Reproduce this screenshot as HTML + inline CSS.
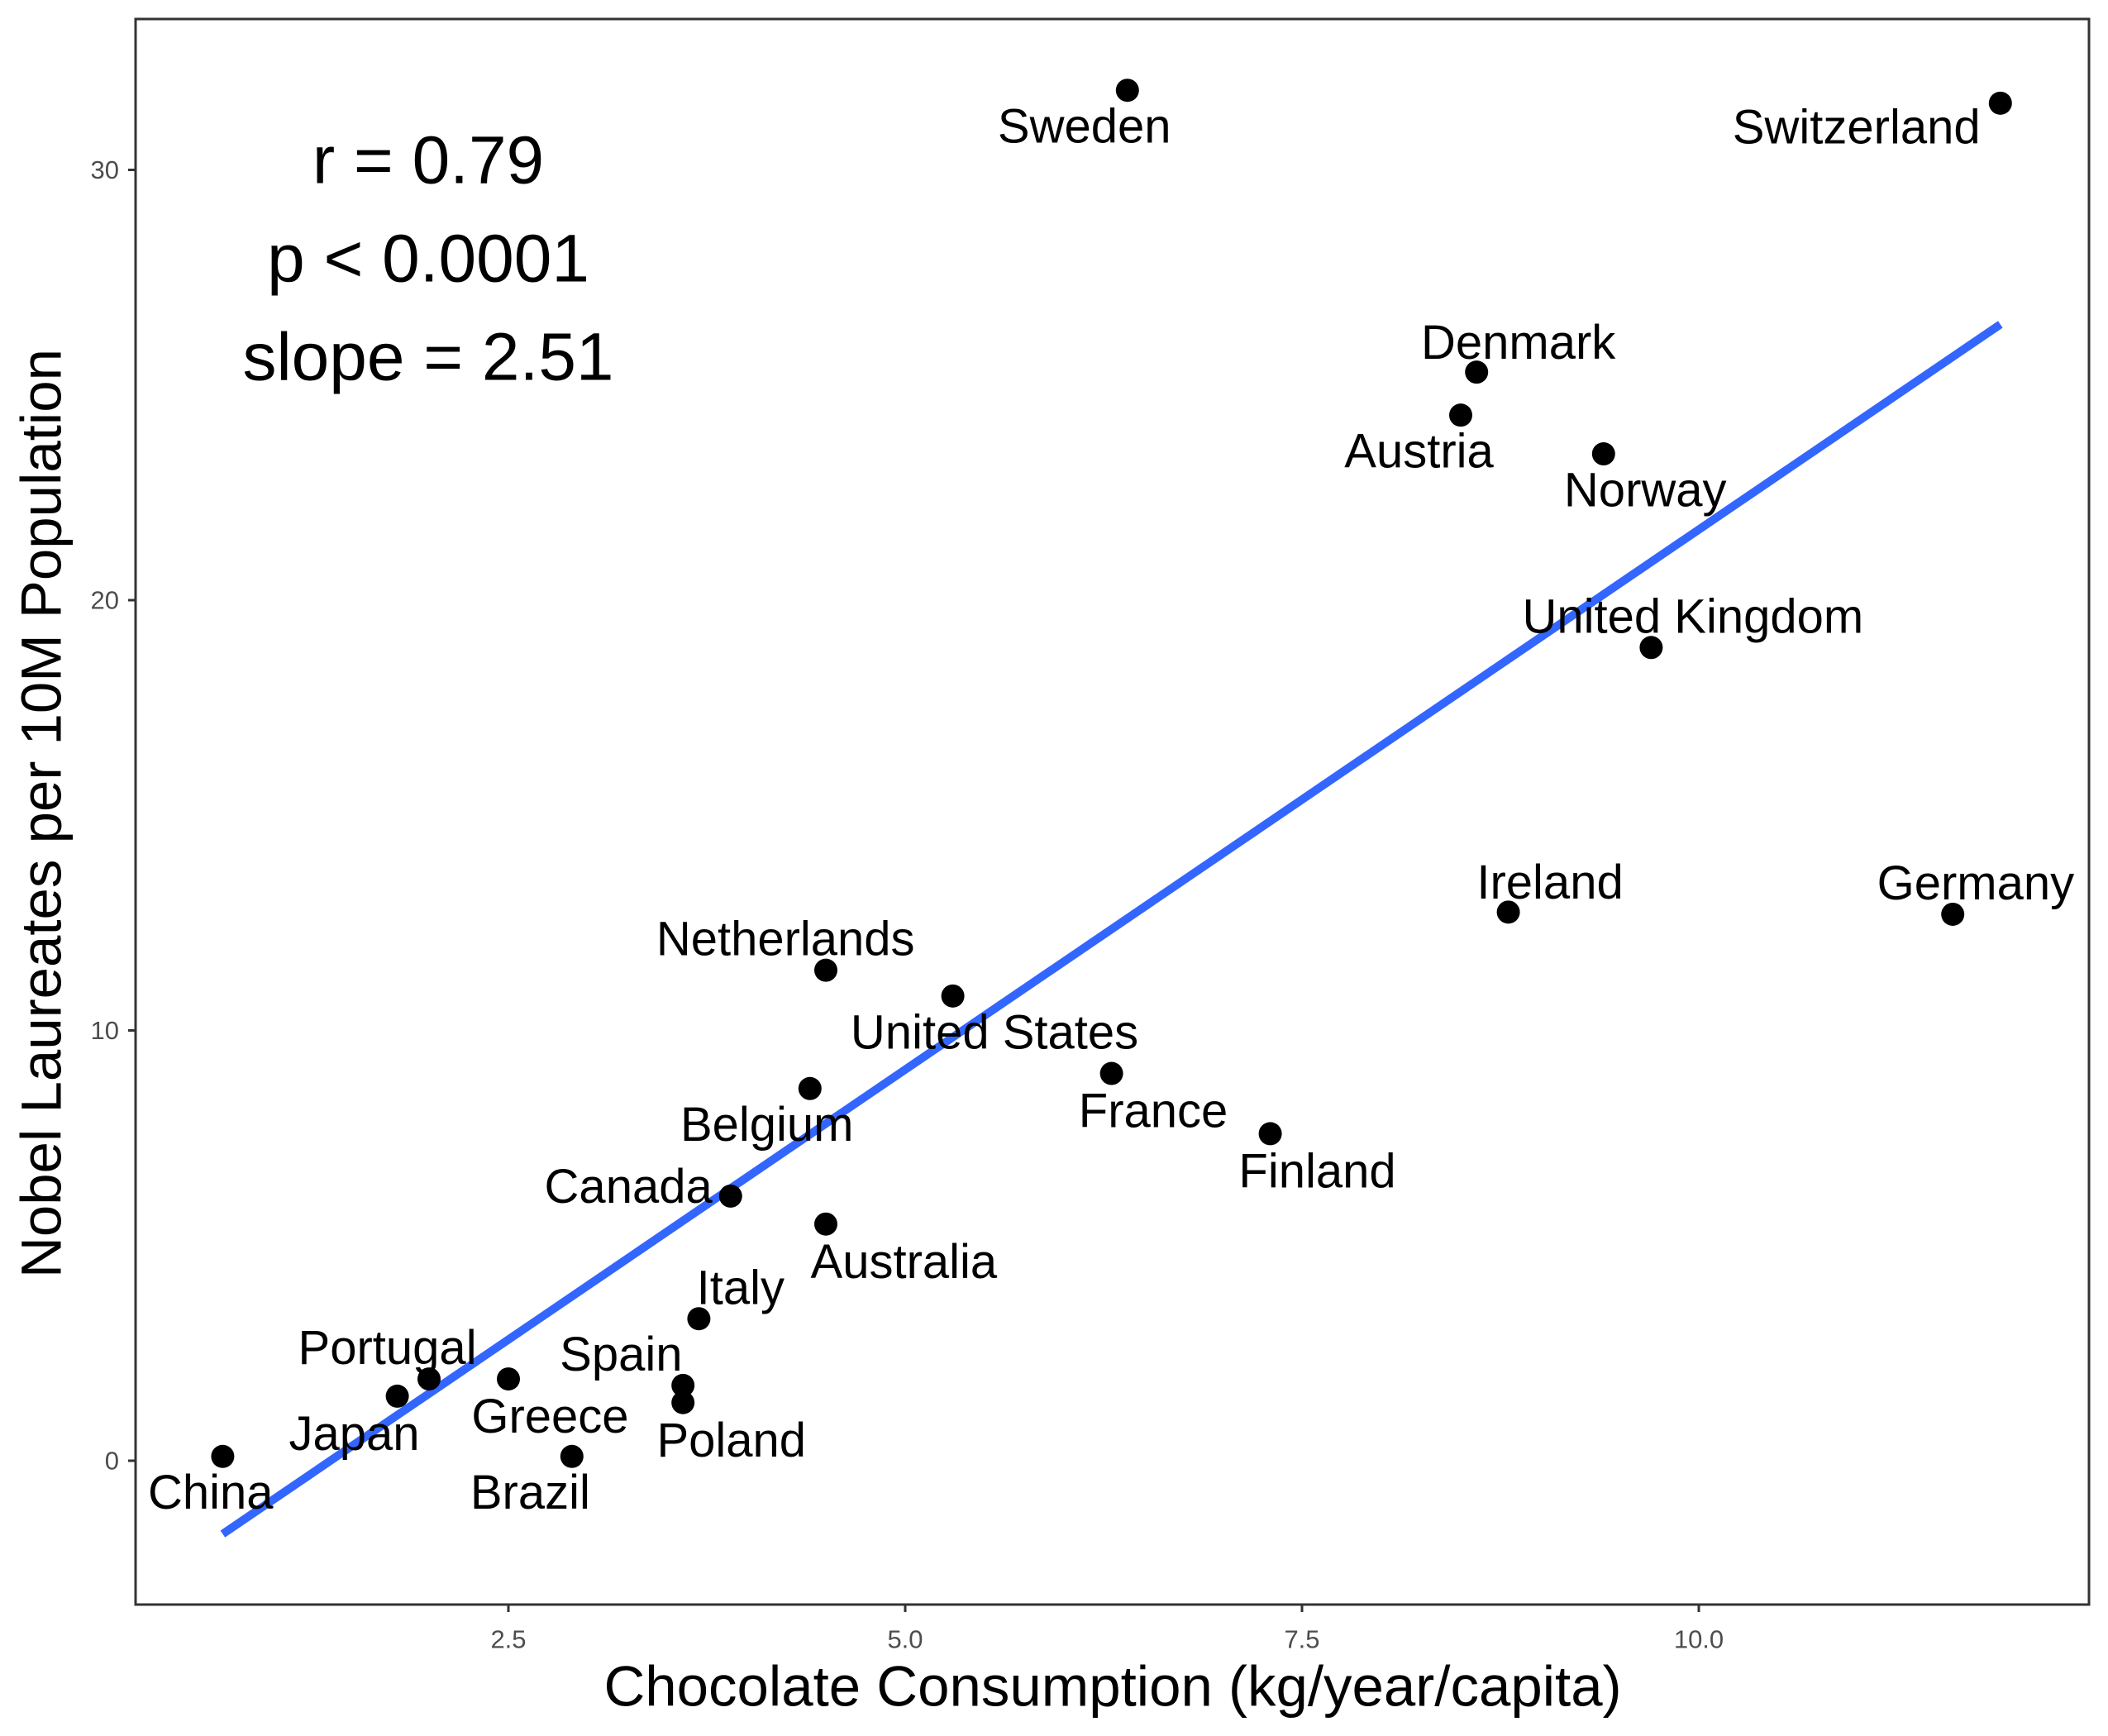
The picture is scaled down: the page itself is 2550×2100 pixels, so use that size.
<!DOCTYPE html>
<html><head><meta charset="utf-8"><style>
html,body{margin:0;padding:0;background:#fff;}
svg{display:block;font-family:"Liberation Sans",Arial,sans-serif;}
</style></head><body>
<svg id="chart" width="2550" height="2100" viewBox="0 0 2550 2100" xmlns="http://www.w3.org/2000/svg">
<rect x="0" y="0" width="2550" height="2100" fill="#fff"/>
<g id="plot"></g>
</svg>
<script>
const countries=["China","Japan","Portugal","Greece","Brazil","Spain","Poland","Italy","Canada","Australia","Belgium","Netherlands","United States","France","Finland","Sweden","Denmark","Austria","Norway","United Kingdom","Ireland","Germany","Switzerland"];
const chocolate=[0.7,1.8,2.0,2.5,2.9,3.6,3.6,3.7,3.9,4.5,4.4,4.5,5.3,6.3,7.3,6.4,8.6,8.5,9.4,9.7,8.8,11.6,11.9];
const nobel=[0.1,1.5,1.9,1.9,0.1,1.75,1.35,3.3,6.15,5.5,8.65,11.4,10.8,9.0,7.6,31.85,25.3,24.3,23.4,18.9,12.75,12.7,31.55];
const labelDx=[-9,-32,-31,31,-31,-46,36,31,-76,58,-32,-30,31,31,35,-32,31,-31,31,31,31,17,-107];
const labelDy=[27,28,-23,28,27,-23,28,-23,-7,28,27,-23,27,28,28,27,-22,27,27,-23,-22,-23,18];
const xTicks=[2.5,5.0,7.5,10.0];
const xTickLabels=["2.5","5.0","7.5","10.0"];
const yTicks=[0,10,20,30];
const yTickLabels=["0","10","20","30"];
const fitSlope=2.51, fitIntercept=-3.46;
const fitRange=[0.7,11.9];
const statLines=["r = 0.79","p < 0.0001","slope = 2.51"];

const L=164,R=2527,T=23,B=1941;
const xs=v=>135+192*v;
const ys=v=>1767-52.05*v;
const S=1.627;
const ns="http://www.w3.org/2000/svg";
const g=document.getElementById('plot');
function mk(tag,attrs,parent){const e=document.createElementNS(ns,tag);for(const k in attrs)e.setAttribute(k,attrs[k]);(parent||g).appendChild(e);return e;}

let e=mk('rect',{x:L,y:T,width:R-L,height:B-T,fill:'none',stroke:'#333',"stroke-width":3});



xTicks.forEach((t,i)=>{
 let l=mk('line',{x1:xs(t),x2:xs(t),y1:B,y2:B+9,stroke:'#333',"stroke-width":3});
 
 
 let tx=mk('text',{x:xs(t),y:B+42,"font-size":31,fill:'#4d4d4d',"text-anchor":'middle',"dominant-baseline":'central'});
 tx.textContent=xTickLabels[i];
 
 
});
yTicks.forEach((t,i)=>{
 let l=mk('line',{x1:L-9,x2:L,y1:ys(t),y2:ys(t),stroke:'#333',"stroke-width":3});
 
 
 let tx=mk('text',{x:L-20,y:ys(t),"font-size":31,fill:'#4d4d4d',"text-anchor":'end',"dominant-baseline":'central'});
 tx.textContent=yTickLabels[i];
 
 
});

e=mk('line',{x1:xs(fitRange[0]),y1:ys(fitIntercept+fitSlope*fitRange[0]),x2:xs(fitRange[1]),y2:ys(fitIntercept+fitSlope*fitRange[1]),stroke:'#3366FF',"stroke-width":10});



countries.forEach((c,i)=>{
 let p=mk('circle',{cx:xs(chocolate[i]),cy:ys(nobel[i]),r:14,fill:'#000'});
 
 
 let t=mk('text',{x:xs(chocolate[i])+labelDx[i]*S,y:ys(nobel[i])+labelDy[i]*S,"font-size":58,fill:'#000',"text-anchor":'middle',"dominant-baseline":'central'});
 t.textContent=c;
 
 
});

statLines.forEach((s,i)=>{
 let t=mk('text',{x:518,y:194+i*119,"font-size":82,fill:'#000',"text-anchor":'middle',"dominant-baseline":'central'});
 t.textContent=s;
 
 
});

e=mk('text',{x:1346,y:2040,"font-size":69,fill:'#000',"text-anchor":'middle',"dominant-baseline":'central'});
e.textContent='Chocolate Consumption (kg/year/capita)';


e=mk('text',{x:0,y:0,"font-size":69,fill:'#000',"text-anchor":'middle',"dominant-baseline":'central',transform:'translate(50,984) rotate(-90)'});
e.textContent='Nobel Laureates per 10M Population';


</script>
</body></html>
